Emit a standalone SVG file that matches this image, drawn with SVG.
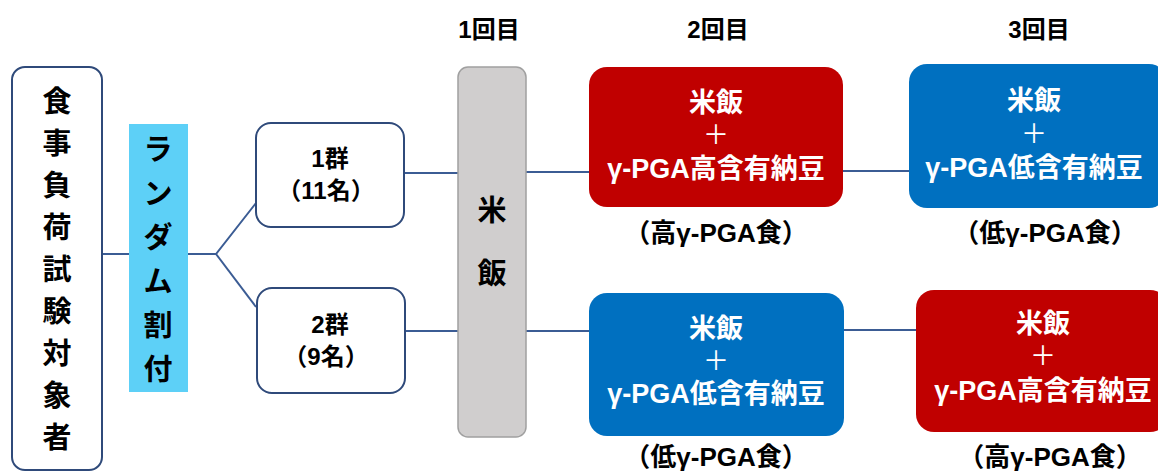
<svg xmlns="http://www.w3.org/2000/svg" width="1158" height="472" viewBox="0 0 1158 472">
<style>
.t{font-family:"Liberation Sans","Noto Sans CJK JP",sans-serif;font-weight:bold;text-anchor:middle;}
.k{fill:#000;}
.w{fill:#fff;}
.ob{fill:#fff;stroke:#2F4A7A;stroke-width:2;}
.ln{stroke:#3B5C94;stroke-width:2;fill:none;}
.red{fill:#C00000;}
.blue{fill:#0070C0;}
.bx{font-size:27px;}
.pl{font-size:26px;font-weight:normal;}
.lb{font-size:26px;}
</style>
<rect width="1158" height="472" fill="#fff"/>
<g id="connectors">
<line class="ln" x1="102" y1="254" x2="129" y2="254"/>
<polyline class="ln" points="188,254 216,254 256,203"/>
<line class="ln" x1="216" y1="254" x2="256" y2="307"/>
<line class="ln" x1="404" y1="173" x2="458" y2="173"/>
<line class="ln" x1="405" y1="331" x2="458" y2="331"/>
<line class="ln" x1="526" y1="172" x2="589" y2="172"/>
<line class="ln" x1="526" y1="331" x2="589" y2="331"/>
<line class="ln" x1="843" y1="171" x2="909" y2="171"/>
<line class="ln" x1="844" y1="330" x2="916" y2="330"/>
</g>
<g id="headers">
<text class="t k" x="489" y="38" font-size="24">1回目</text>
<text class="t k" x="718" y="38" font-size="24">2回目</text>
<text class="t k" x="1039" y="38" font-size="24">3回目</text>
</g>
<g id="subjects">
<rect class="ob" x="12" y="67" width="90" height="403" rx="13"/>
<text class="t k" font-size="29">
<tspan x="57" y="112">食</tspan><tspan x="57" y="154">事</tspan><tspan x="57" y="196">負</tspan><tspan x="57" y="238">荷</tspan><tspan x="57" y="280">試</tspan><tspan x="57" y="322">験</tspan><tspan x="57" y="364">対</tspan><tspan x="57" y="406">象</tspan><tspan x="57" y="448">者</tspan>
</text>
</g>
<g id="random">
<rect x="129" y="124" width="59" height="268" fill="#5DD0F7"/>
<text class="t k" font-size="29">
<tspan x="158" y="160">ラ</tspan><tspan x="158" y="204">ン</tspan><tspan x="158" y="248">ダ</tspan><tspan x="158" y="292">ム</tspan><tspan x="158" y="336">割</tspan><tspan x="158" y="380">付</tspan>
</text>
</g>
<g id="group1">
<rect class="ob" x="256" y="123" width="148" height="104" rx="15"/>
<text class="t k" x="330" y="167" font-size="24">1群</text>
<text class="t k" x="326" y="199" font-size="24">（11名）</text>
</g>
<g id="group2">
<rect class="ob" x="257" y="288" width="148" height="105" rx="15"/>
<text class="t k" x="330" y="333" font-size="24">2群</text>
<text class="t k" x="326" y="365" font-size="24">（9名）</text>
</g>
<g id="rice">
<rect x="458" y="67" width="68" height="370" rx="10" fill="#D0CECE" stroke="#A0A0A0" stroke-width="1.5"/>
<text class="t k" font-size="29" font-weight="normal">
<tspan x="492" y="221">米</tspan><tspan x="492" y="284">飯</tspan>
</text>
</g>
<g id="r2g1">
<rect class="red" x="589" y="67" width="254" height="140" rx="18"/>
<text class="t w bx" x="716" y="112">米飯</text>
<text class="t w pl" x="716" y="144">＋</text>
<text class="t w bx" x="716" y="178">γ-PGA高含有納豆</text>
<text class="t k lb" x="716" y="242">（高γ-PGA食）</text>
</g>
<g id="r3g1">
<rect class="blue" x="909" y="64" width="258" height="144" rx="18"/>
<text class="t w bx" x="1034" y="110">米飯</text>
<text class="t w pl" x="1034" y="143">＋</text>
<text class="t w bx" x="1034" y="177">γ-PGA低含有納豆</text>
<text class="t k lb" x="1045" y="242">（低γ-PGA食）</text>
</g>
<g id="r2g2">
<rect class="blue" x="589" y="293" width="255" height="143" rx="18"/>
<text class="t w bx" x="716" y="338">米飯</text>
<text class="t w pl" x="716" y="370">＋</text>
<text class="t w bx" x="716" y="403">γ-PGA低含有納豆</text>
<text class="t k lb" x="716" y="466">（低γ-PGA食）</text>
</g>
<g id="r3g2">
<rect class="red" x="916" y="290" width="252" height="142" rx="18"/>
<text class="t w bx" x="1043" y="333">米飯</text>
<text class="t w pl" x="1043" y="365">＋</text>
<text class="t w bx" x="1043" y="400">γ-PGA高含有納豆</text>
<text class="t k lb" x="1050" y="466">（高γ-PGA食）</text>
</g>
</svg>
